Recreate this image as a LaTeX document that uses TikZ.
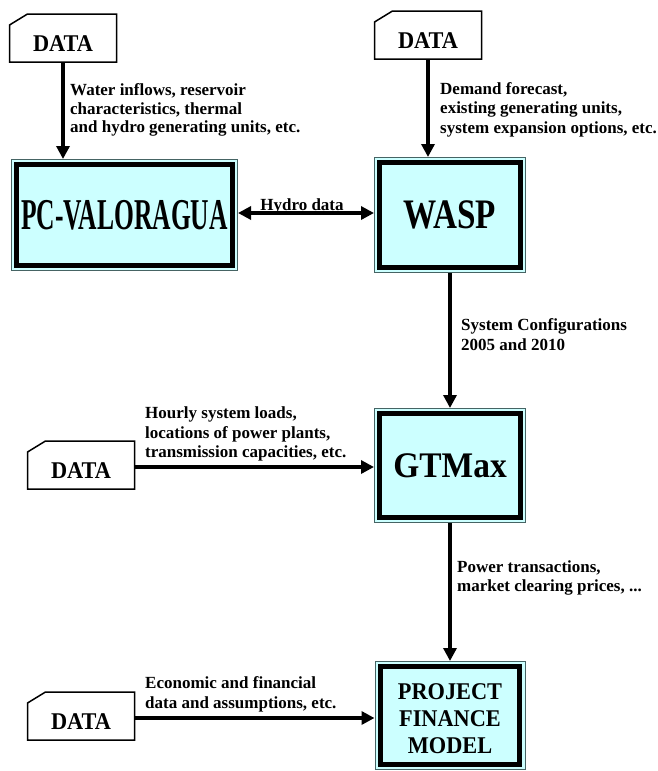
\documentclass[tikz,border=0pt]{standalone}
\usepackage{fontspec}
\setmainfont{Liberation Serif}
\usepackage{graphicx}
\usetikzlibrary{arrows.meta,calc}
\definecolor{boxcyan}{RGB}{204,255,255}
\definecolor{framegray}{RGB}{70,100,100}
\newcommand\sqz[2]{\scalebox{#1}[1]{#2}}
\begin{document}
\begin{tikzpicture}[x=1pt,y=-1pt,
  arr/.style={line width=3.5pt, -{Triangle[width=13pt,length=13pt]}},
  darr/.style={line width=3.5pt, {Triangle[width=13pt,length=13pt]}-{Triangle[width=13pt,length=13pt]}},
  modelbox/.style={draw=black, line width=4.7pt, fill=boxcyan,
    preaction={draw=framegray, line width=11.4pt},
    preaction={draw=boxcyan, line width=9.4pt},
    outer sep=5.7pt, inner sep=0pt, align=center},
  datanode/.style={inner sep=0pt, outer sep=0pt, minimum width=107pt, minimum height=44pt,
    font=\fontsize{24}{28}\selectfont\bfseries, text height=22pt, text depth=0pt},
  dataline/.style={line width=1.5pt, line join=miter},
  lbl/.style={anchor=north west, inner sep=0pt, align=left, font=\fontsize{17}{19.5}\selectfont\bfseries}
]
\useasboundingbox (0,0) rectangle (658,771);

% model boxes
\node[modelbox, minimum width=215.6pt, minimum height=100.6pt,
  font=\fontsize{44}{44}\selectfont\bfseries] (pc) at (124.5,215)
  {\sqz{0.58}{PC-VALORAGUA}};
\node[modelbox, minimum width=140.6pt, minimum height=104.6pt,
  font=\fontsize{42}{42}\selectfont\bfseries] (wasp) at (450,215)
  {\sqz{0.79}{WASP}};
\node[modelbox, minimum width=140.6pt, minimum height=103.6pt,
  font=\fontsize{36}{36}\selectfont\bfseries] (gt) at (450,465.5)
  {\sqz{0.93}{GTMax}};
\node[modelbox, minimum width=139.6pt, minimum height=97.6pt,
  font=\fontsize{24}{26.7}\selectfont\bfseries] (pf) at (450,715.5)
  {\rule{0pt}{22pt}\sqz{0.93}{PROJECT}\\\sqz{0.93}{FINANCE}\\\sqz{0.93}{MODEL}};

% data nodes
\node[datanode] (d1) at (63,40) {\sqz{0.93}{DATA}};
\node[datanode] (d2) at (428,37) {\sqz{0.93}{DATA}};
\node[datanode] (d3) at (81,467) {\sqz{0.93}{DATA}};
\node[datanode] (d4) at (81,718) {\sqz{0.93}{DATA}};
\foreach \d in {d1,d2,d3,d4}{
  \draw[dataline] (\d.south west) -- ($(\d.north west)+(0,7)$) -- ($(\d.north west)+(18,-4)$)
    -- ($(\d.north east)+(0,-4)$) -- (\d.south east) -- cycle;
}

% connectors
\draw[arr] (d1.south) -- (d1.south |- pc.north);
\draw[arr] (d2.south) -- (d2.south |- wasp.north);
\draw[darr] ([yshift=2pt]pc.east) -- ([yshift=2pt]wasp.west);
\draw[arr] (wasp.south) -- (gt.north);
\draw[arr] (d3.east) -- (d3.east -| gt.west);
\draw[arr] (gt.south) -- (pf.north);
\draw[arr] (d4.east) -- (d4.east -| pf.west);

% labels
\node[lbl, font=\fontsize{17}{18.5}\selectfont\bfseries] (l1) at (70,83.5)
  {Water inflows, reservoir\\characteristics, thermal\\and hydro generating units, etc.};
\node[lbl] (l2) at (440,82)
  {Demand forecast,\\existing generating units,\\system expansion options, etc.};
\node[anchor=base, inner sep=0pt, font=\fontsize{17}{19}\selectfont\bfseries] (lh) at (302,210) {Hydro data};
\node[lbl] (l3) at (461,318.5) {System Configurations\\2005 and 2010};
\node[lbl] (l4) at (145,406.5)
  {Hourly system loads,\\locations of power plants,\\transmission capacities, etc.};
\node[lbl] (l5) at (457,560) {Power transactions,\\market clearing prices, ...};
\node[lbl] (l6) at (145,676.5) {Economic and financial\\data and assumptions, etc.};
\end{tikzpicture}
\end{document}
